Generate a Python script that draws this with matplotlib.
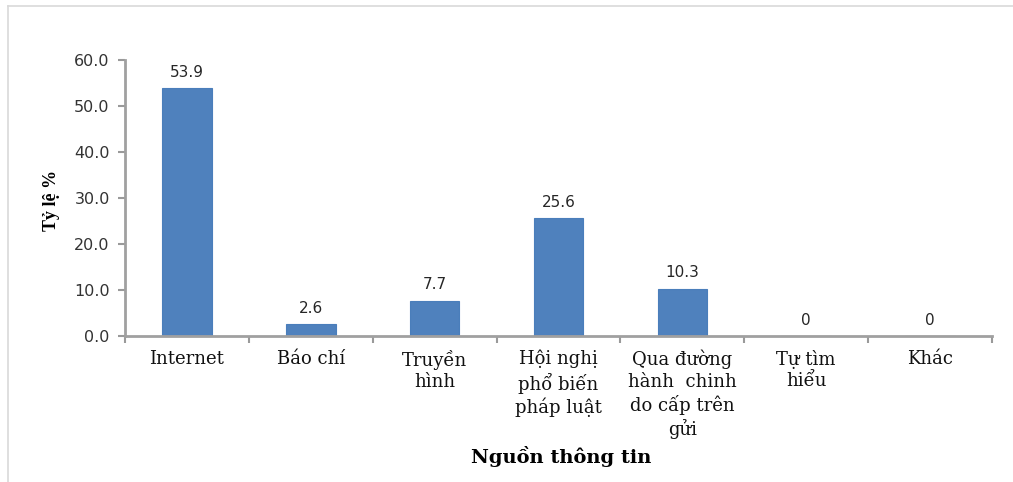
import matplotlib
matplotlib.use('Agg')
import matplotlib.pyplot as plt
from matplotlib.lines import Line2D

# dữ liệu
categories = ['Internet', 'Báo chí', 'Truyền\nhình', 'Hội nghị\nphổ biến\npháp luật',
              'Qua đường\nhành  chinh\ndo cấp trên\ngửi', 'Tự tìm\nhiểu', 'Khác']
values = [53.9, 2.6, 7.7, 25.6, 10.3, 0, 0]
value_labels = ['53.9', '2.6', '7.7', '25.6', '10.3', '0', '0']
yticks = [0, 10, 20, 30, 40, 50, 60]

fig = plt.figure(figsize=(10.13, 4.82), dpi=100)
ax = fig.add_axes([125 / 1013, 1 - 336 / 482, (992 - 125) / 1013, (336 - 60) / 482])

x = list(range(len(categories)))
bars = ax.bar(x, values, width=0.4, color='#4F81BD', edgecolor='#4A7EBB', linewidth=0.8)

for xi, v, lab in zip(x, values, value_labels):
    ax.annotate(lab, (xi, v), xytext=(0, 6), textcoords='offset points',
                ha='center', va='bottom', fontsize=11, color='#262626',
                family='DejaVu Sans')

ax.set_xlim(-0.5, len(categories) - 0.5)
ax.set_ylim(0, 60)
ax.set_yticks(yticks)
ax.set_yticklabels(['%.1f' % t for t in yticks], fontsize=11.5, color='#333333')

ax.set_xticks(x)
ax.set_xticklabels(categories, fontsize=13, family='DejaVu Serif', color='#111111',
                   linespacing=1.25, va='top')
ax.set_xticks([i - 0.5 for i in range(len(categories) + 1)], minor=True)
ax.tick_params(axis='x', which='major', length=0, pad=10)
ax.tick_params(axis='x', which='minor', length=5, color='#9a9a9a', width=1.5, direction='out')
ax.tick_params(axis='y', length=5, color='#9a9a9a', width=1.5, pad=6)

for s in ['top', 'right']:
    ax.spines[s].set_visible(False)
for s in ['left', 'bottom']:
    ax.spines[s].set_color('#a0a0a0')
    ax.spines[s].set_linewidth(2)

ax.set_xlabel('Nguồn thông tin', fontsize=14, fontweight='bold', family='DejaVu Serif')
ax.xaxis.set_label_coords(0.503, -0.40)
ax.set_ylabel('Tỷ lệ %', fontsize=13, fontweight='bold', family='Liberation Serif')
ax.yaxis.set_label_coords(-0.075, 0.49)

# khung ngoài
fig.add_artist(Line2D([8 / 1013, 8 / 1013], [0, 1 - 6 / 482], color='#d9d9d9', lw=1.2))
fig.add_artist(Line2D([8 / 1013, 1], [1 - 6 / 482, 1 - 6 / 482], color='#d9d9d9', lw=1.2))

fig.savefig('out.png', dpi=100)
